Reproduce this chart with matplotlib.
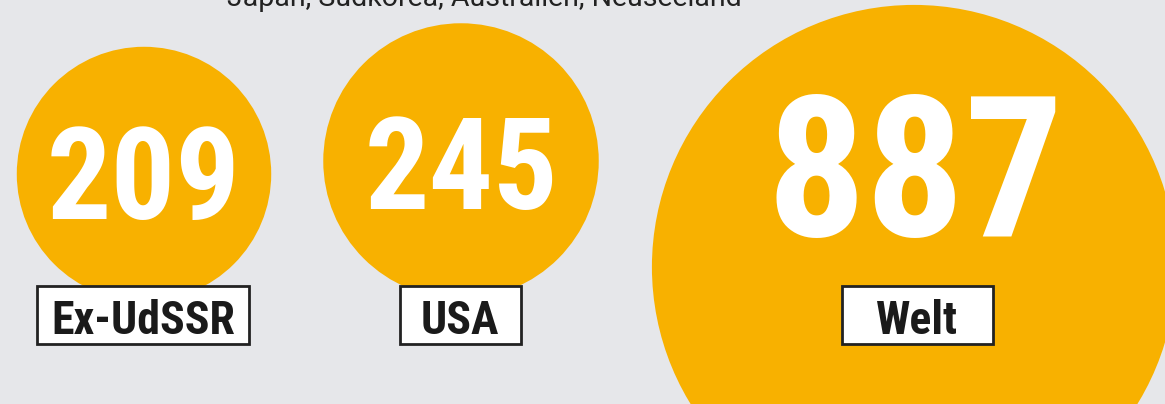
import os
import numpy as np
import matplotlib.pyplot as plt
from matplotlib import font_manager as fm
from matplotlib.patches import Circle, Rectangle

# Werte aus der Grafik
regions = ["Ex-UdSSR", "USA", "Welt"]
values = [209, 245, 887]
subtitle = "Japan, Südkorea, Australien, Neuseeland"

# Layout (Pixel)
W, H = 1165, 404
centers = [(144, 174), (461, 161), (914, 267)]
number_pos = [(144, 171), (461, 161), (915, 162)]
number_size = [92, 92, 141]
box_centers = [(143, 315), (460, 315), (917, 315)]
box_widths = [212, 121, 151]
box_h = 58
k = 8.8  # Radius pro Wurzel-Einheit

orange = "#F8B100"
bg = "#E6E7EA"


def condensed_bold():
    # schmale, fette Schrift suchen, sonst Roboto Bold
    order = ["robotocondensed", "liberationsansnarrow", "notosans-condensed",
             "dejavusanscondensed", "opensans_condensed", "opensans-condensed"]
    found = {}
    for f in fm.fontManager.ttflist:
        fn = os.path.basename(f.fname).lower()
        if "bold" not in fn or "italic" in fn or "oblique" in fn:
            continue
        if any(s in fn for s in ("semibold", "extrabold", "semi", "extra")):
            continue
        for key in order:
            if fn.startswith(key):
                found.setdefault(key, f.fname)
    for key in order:
        if key in found:
            return fm.FontProperties(fname=found[key])
    return fm.FontProperties(family=["Roboto", "DejaVu Sans"], weight="bold")


cond = condensed_bold()

fig = plt.figure(figsize=(W / 100, H / 100), dpi=100)
fig.patch.set_facecolor(bg)
ax = fig.add_axes([0, 0, 1, 1])
ax.set_xlim(0, W)
ax.set_ylim(H, 0)
ax.set_aspect("equal")
ax.axis("off")

ax.text(227, 6, subtitle, fontsize=20.5, color="#222222",
        ha="left", va="baseline", family=["Roboto", "DejaVu Sans"])

for i, v in enumerate(values):
    r = k * np.sqrt(v)
    ax.add_patch(Circle(centers[i], r, fc=orange, ec="none", zorder=1))
    ax.text(number_pos[i][0], number_pos[i][1], str(v), color="white",
            fontproperties=cond, fontsize=number_size[i],
            ha="center", va="center_baseline", zorder=3)
    bx, by = box_centers[i]
    ax.add_patch(Rectangle((bx - box_widths[i] / 2, by - box_h / 2),
                           box_widths[i], box_h, fc="white", ec="#222222",
                           lw=2, zorder=4))
    ax.text(bx, by + 2, regions[i], color="#1a1a1a", fontproperties=cond,
            fontsize=33, ha="center", va="center_baseline", zorder=5)

plt.savefig("out.png", dpi=100, facecolor=bg)
